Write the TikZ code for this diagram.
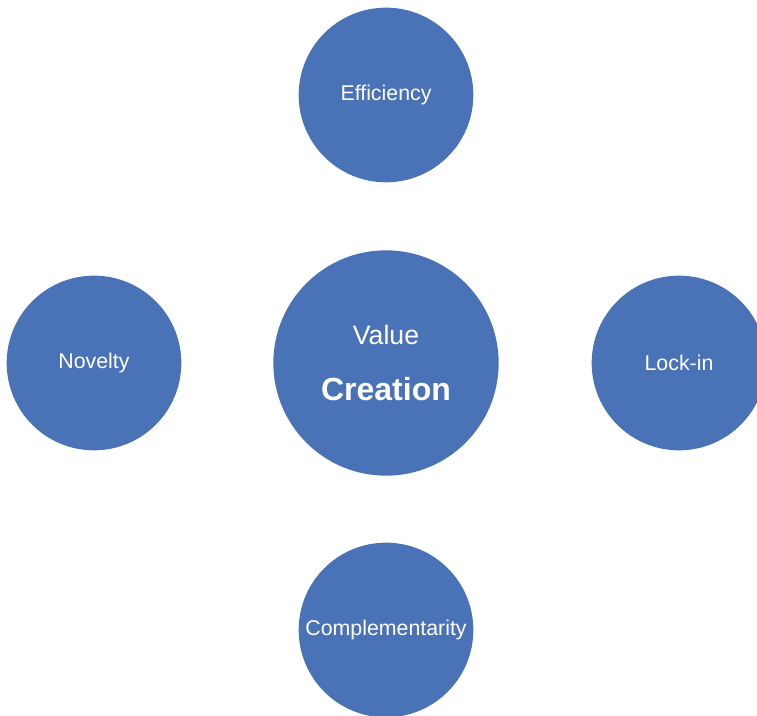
\documentclass[tikz,border=0pt]{standalone}
\usepackage{fontspec}
\setmainfont{Liberation Sans}
\usepackage{xcolor}
\usepackage{tikz}
\usetikzlibrary{positioning}

\definecolor{valblue}{RGB}{74,114,183}

\begin{document}
\begin{tikzpicture}[x=0.75pt, y=-0.75pt,
            driver/.style={circle, fill=valblue, draw=none, minimum size=131pt, inner sep=0pt,
                 text=white, font=\fontsize{16}{19}\selectfont, align=center},
            core/.style={circle, fill=valblue, draw=none, minimum size=169pt, inner sep=0pt,
                 text=white, align=center}
            ]
            \useasboundingbox (0,0) rectangle (757,716);
            \clip (0,0) rectangle (757,716);

            % Centre circle
            \node[core] (val) at (386,363) {\fontsize{20}{24}\selectfont Value\\[24pt]
                 \fontsize{24}{28}\selectfont\bfseries Creation};

            % Four drivers with manual coordinates
            \node[driver] (eff) at (386,95) {Efficiency};
            \node[driver] (nov) at (94,363) {Novelty};
            \node[driver] (lock) at (679,363) {Lock-in};
            \node[driver] (comp) at (386,630) {Complementarity};
        \end{tikzpicture}
\end{document}
